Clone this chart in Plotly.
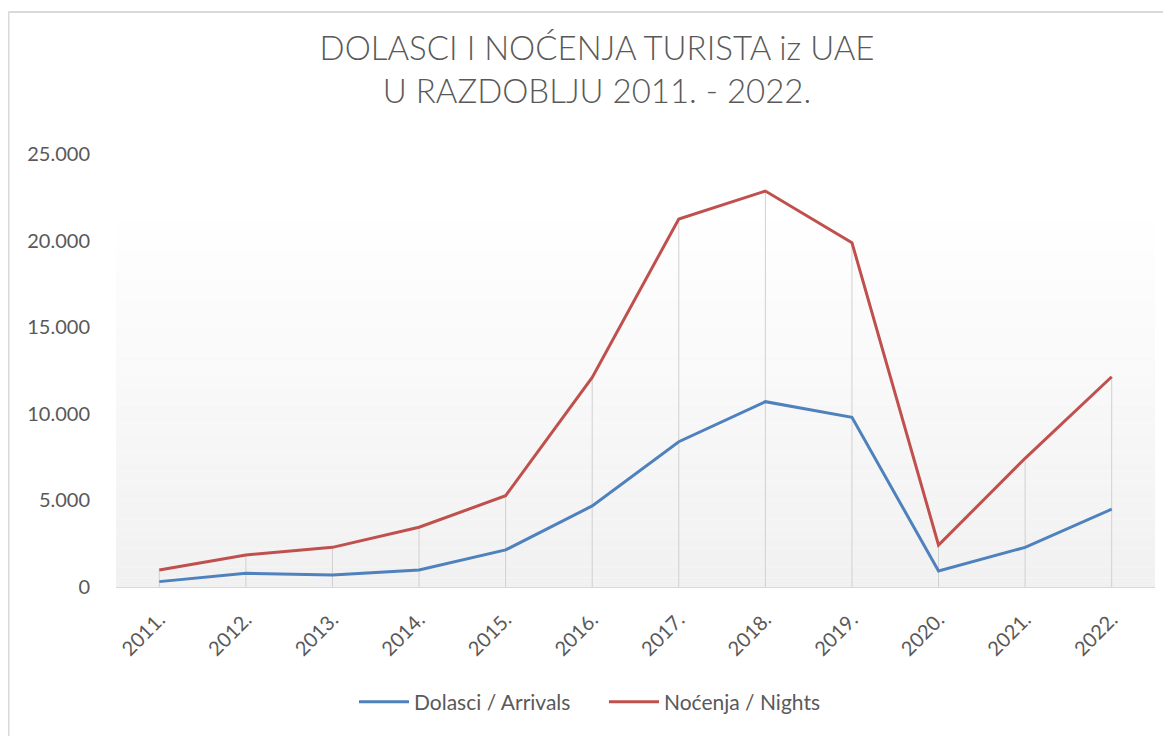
import plotly.graph_objects as go

years = ["2011.", "2012.", "2013.", "2014.", "2015.", "2016.",
         "2017.", "2018.", "2019.", "2020.", "2021.", "2022."]
arrivals = [310, 790, 690, 980, 2140, 4680, 8390, 10700, 9800, 920, 2290, 4490]
nights = [980, 1850, 2290, 3450, 5270, 12100, 21250, 22860, 19880, 2420, 7430, 12140]
y_ticks = [0, 5000, 10000, 15000, 20000, 25000]
y_tick_labels = ["0", "5.000", "10.000", "15.000", "20.000", "25.000"]

W, H = 1171, 736
L, R, T, B = 108, 24, 146, 157
pw, ph = W - L - R, H - T - B

FONT = "Lato, 'Open Sans', sans-serif"
GRAY = "#595959"

fig = go.Figure()
fig.add_trace(go.Scatter(x=years, y=arrivals, mode="lines", name="Dolasci / Arrivals",
                         line=dict(color="#4F81BD", width=3)))
fig.add_trace(go.Scatter(x=years, y=nights, mode="lines", name="Noćenja / Nights",
                         line=dict(color="#C0504D", width=3)))

shapes = []
# plot-area gradient background
n = 40
top = 0.887
for i in range(n):
    f = i / (n - 1)
    c = int(round(241 + (255 - 241) * f))
    shapes.append(dict(type="rect", xref="x domain", yref="paper",
                       x0=0, x1=1, y0=top * i / n, y1=top * (i + 1) / n,
                       fillcolor=f"rgb({c},{c},{c})", line=dict(width=0), layer="below"))
# drop lines (category index positions)
for idx, (a, b) in enumerate(zip(arrivals, nights)):
    shapes.append(dict(type="line", xref="x", yref="y", x0=idx, x1=idx, y0=0, y1=max(a, b),
                       line=dict(color="#d0d0d0", width=1), layer="between"))
# outer chart border (top & left visible)
bx = (0.5 - L) / pw
by = (H - B - 4) / ph
shapes.append(dict(type="line", xref="paper", yref="paper", x0=bx, x1=1.2, y0=by, y1=by,
                   line=dict(color="#d9d9d9", width=2)))
shapes.append(dict(type="line", xref="paper", yref="paper", x0=bx, x1=bx, y0=-0.6, y1=by,
                   line=dict(color="#d9d9d9", width=2)))

fig.update_layout(
    width=W, height=H,
    margin=dict(l=L, r=R, t=T, b=B),
    paper_bgcolor="white", plot_bgcolor="rgba(0,0,0,0)",
    title=dict(text="DOLASCI I NOĆENJA TURISTA iz UAE<br>U RAZDOBLJU 2011. - 2022.",
               x=(589 - L) / pw, xref="paper", xanchor="center",
               y=1 - 52 / H, yanchor="middle",
               font=dict(family=FONT, size=33, color=GRAY, weight=300)),
    font=dict(family=FONT, color=GRAY),
    showlegend=True,
    legend=dict(orientation="h", x=(596 - L) / pw, xanchor="center", y=(H - B - 694) / ph,
                yanchor="middle", font=dict(size=21, color=GRAY), itemwidth=50,
                entrywidth=185, bgcolor="rgba(0,0,0,0)"),
    shapes=shapes,
    xaxis=dict(type="category", showgrid=False, showline=True, linecolor="#d9d9d9",
               linewidth=1, ticks="outside", ticklen=12, tickcolor="rgba(0,0,0,0)",
               tickangle=-45, tickfont=dict(size=20, color=GRAY),
               range=[-0.5, 11.5], zeroline=False, fixedrange=True),
    yaxis=dict(range=[0, 25000], tickvals=y_ticks, ticktext=y_tick_labels,
               showgrid=False, zeroline=False, showline=False,
               ticks="outside", ticklen=21, tickcolor="rgba(0,0,0,0)",
               tickfont=dict(size=20, color=GRAY)),
)

fig.write_html("out.html")
